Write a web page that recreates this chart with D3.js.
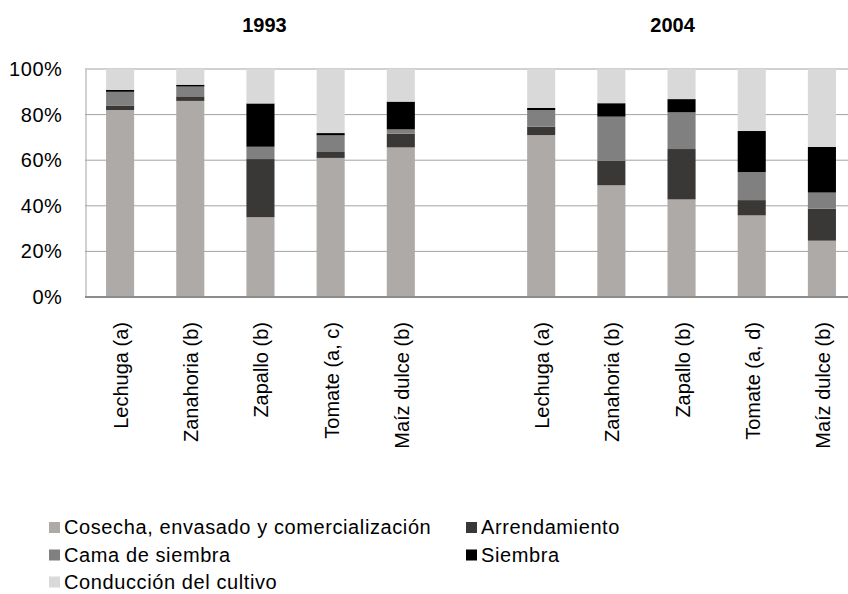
<!DOCTYPE html>
<html>
<head>
<meta charset="utf-8">
<script src="https://cdn.jsdelivr.net/npm/d3@7"></script>
<style>
  body { margin: 0; background: #fff; }
  svg { display: block; font-family: "Liberation Sans", Arial, sans-serif; }
</style>
</head>
<body>
<svg id="chart" width="848" height="594"></svg>
<script>
var width = 848,
    height = 594;

// data (percent of total cost)
var years = ["1993", "2004"];
var crops1993 = ["Lechuga (a)", "Zanahoria (b)", "Zapallo (b)", "Tomate (a, c)", "Maíz dulce (b)"];
var crops2004 = ["Lechuga (a)", "Zanahoria (b)", "Zapallo (b)", "Tomate (a, d)", "Maíz dulce (b)"];
var seriesNames = ["Cosecha, envasado y comercialización", "Arrendamiento", "Cama de siembra", "Siembra", "Conducción del cultivo"];
var seriesColors = ["#aeaaa8", "#3a3836", "#808080", "#000000", "#d9d9d9"];

var cosecha       = [82, 86, 35, 61, 65.6, 71, 49, 42.8, 35.8, 24.7];
var arrendamiento = [2, 2, 25.5, 2.6, 6, 3.7, 10.8, 22.1, 6.7, 14];
var camaSiembra   = [6, 4.3, 5.4, 7.3, 1.9, 7.3, 19.3, 16.1, 12.3, 7.1];
var siembra       = [0.8, 0.8, 19, 1, 12.2, 0.9, 5.9, 5.8, 18, 20];
var conduccion    = [9.2, 6.9, 15.1, 28.1, 14.3, 17.1, 15, 13.2, 27.2, 34.2];

var yTicks = [0, 20, 40, 60, 80, 100];

// build rows for the stack
var allSeries = [cosecha, arrendamiento, camaSiembra, siembra, conduccion];
var rows = [];
crops1993.forEach(function (c, i) {
    var r = { key: "1993|" + c, name: c, year: "1993" };
    seriesNames.forEach(function (s, j) { r[s] = allSeries[j][i]; });
    rows.push(r);
});
crops2004.forEach(function (c, i) {
    var r = { key: "2004|" + c, name: c, year: "2004" };
    seriesNames.forEach(function (s, j) { r[s] = allSeries[j][i + 5]; });
    rows.push(r);
});

// empty slot between the two years
var domain = rows.slice(0, 5).map(d => d.key).concat(["gap"]).concat(rows.slice(5).map(d => d.key));
var labelOf = {};
rows.forEach(function (d) { labelOf[d.key] = d.name; });

var x = d3.scaleBand()
    .domain(domain)
    .range([85, 857])
    .paddingInner(0.6)
    .paddingOuter(0.3);

var y = d3.scaleLinear()
    .domain([0, 100])
    .range([297, 69]);

var svg = d3.select('#chart');

// grid
svg.append('g')
    .selectAll('line')
    .data(yTicks.filter(d => d > 0))
    .enter()
    .append('line')
    .attr('x1', 85)
    .attr('x2', width)
    .attr('y1', d => y(d))
    .attr('y2', d => y(d))
    .attr('stroke', '#a3a3a3')
    .attr('stroke-width', 1);

// y axis
var yAxis = svg.append('g')
    .attr('transform', 'translate(85.5,0)')
    .call(d3.axisLeft(y).tickValues(yTicks).tickSize(0).tickPadding(23).tickFormat(d => d + '%'));
yAxis.select('.domain').attr('stroke', '#a3a3a3').attr('stroke-width', 1);
yAxis.selectAll('text')
    .attr('font-size', 20)
    .attr('letter-spacing', 0.6)
    .attr('font-family', '"Liberation Sans", Arial, sans-serif')
    .attr('fill', '#000');

// bars
var stack = d3.stack().keys(seriesNames);
var layers = stack(rows);

svg.append('g')
    .selectAll('g')
    .data(layers)
    .enter()
    .append('g')
    .attr('fill', (d, i) => seriesColors[i])
    .selectAll('rect')
    .data(d => d)
    .enter()
    .append('rect')
    .attr('x', d => x(d.data.key))
    .attr('width', x.bandwidth())
    .attr('y', d => y(d[1]))
    .attr('height', d => y(d[0]) - y(d[1]));

// x axis
var xAxis = svg.append('g')
    .attr('transform', 'translate(0,297)')
    .call(d3.axisBottom(x).tickSize(0).tickFormat(d => labelOf[d] || ''));
xAxis.select('.domain').remove();
xAxis.selectAll('.tick').filter(d => d === 'gap').remove();
xAxis.selectAll('text')
    .attr('transform', 'rotate(-90)')
    .attr('x', -25)
    .attr('y', 0)
    .attr('dy', '0.4em')
    .attr('text-anchor', 'end')
    .attr('font-size', 20)
    .attr('font-family', '"Liberation Sans", Arial, sans-serif')
    .attr('fill', '#000');

svg.append('line')
    .attr('x1', 85)
    .attr('x2', width)
    .attr('y1', 297)
    .attr('y2', 297)
    .attr('stroke', '#8c8c8c')
    .attr('stroke-width', 2);

// year titles, roughly over the middle bar of each group
var titleShift = [4, -9];
svg.selectAll('.year')
    .data(years)
    .enter()
    .append('text')
    .attr('class', 'year')
    .attr('x', (d, i) => x(rows[i * 5 + 2].key) + x.bandwidth() / 2 + titleShift[i])
    .attr('y', 31.5)
    .attr('text-anchor', 'middle')
    .attr('font-size', 20)
    .attr('font-weight', 'bold')
    .text(d => d);

// legend
var legendPos = [[49, 527], [466, 527], [49, 554.5], [466, 554.5], [49, 581.5]];
var legend = svg.append('g')
    .selectAll('g')
    .data(seriesNames)
    .enter()
    .append('g')
    .attr('transform', (d, i) => 'translate(' + legendPos[i][0] + ',' + legendPos[i][1] + ')');

legend.append('rect')
    .attr('x', 0)
    .attr('y', -5)
    .attr('width', 11)
    .attr('height', 11)
    .attr('fill', (d, i) => seriesColors[i]);

legend.append('text')
    .attr('x', 15)
    .attr('y', 0)
    .attr('dy', '0.35em')
    .attr('font-size', 20)
    .attr('letter-spacing', 0.6)
    .text(d => d);
</script>
</body>
</html>
